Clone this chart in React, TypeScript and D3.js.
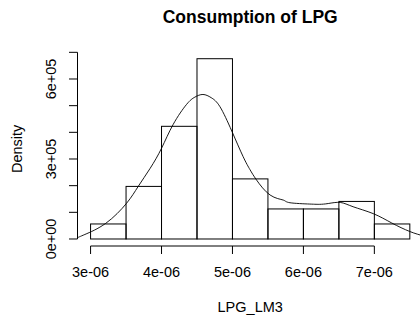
import React from "react";
import * as d3 from "d3";

// Histogram of LPG_LM3 (breaks every 5e-7 from 3e-6 to 7.5e-6)
const breaks = [3.0e-6, 3.5e-6, 4.0e-6, 4.5e-6, 5.0e-6, 5.5e-6, 6.0e-6, 6.5e-6, 7.0e-6, 7.5e-6];
const counts = [2, 7, 15, 24, 8, 4, 4, 5, 2];

// Kernel density estimate
const densityX = [2.80e-6, 2.92e-6, 3.215e-6, 3.507e-6, 3.671e-6, 3.84e-6, 4.00e-6, 4.165e-6, 4.354e-6, 4.47e-6, 4.584e-6, 4.70e-6, 4.824e-6, 4.99e-6, 5.15e-6, 5.247e-6, 5.34e-6, 5.53e-6, 5.716e-6, 5.81e-6, 6.09e-6, 6.23e-6, 6.35e-6, 6.52e-6, 6.70e-6, 6.985e-6, 7.245e-6, 7.50e-6, 7.70e-6];
const densityY = [0.03e5, 0.17e5, 0.589e5, 1.339e5, 1.97e5, 2.65e5, 3.40e5, 4.30e5, 5.05e5, 5.32e5, 5.42e5, 5.30e5, 4.96e5, 4.05e5, 3.09e5, 2.60e5, 2.21e5, 1.65e5, 1.46e5, 1.36e5, 1.31e5, 1.30e5, 1.33e5, 1.37e5, 1.21e5, 0.95e5, 0.60e5, 0.28e5, 0.11e5];

const xTicks = [3e-6, 4e-6, 5e-6, 6e-6, 7e-6];
const xTickLabels = ["3e-06", "4e-06", "5e-06", "6e-06", "7e-06"];
const yTicks = [0, 1e5, 2e5, 3e5, 4e5, 5e5, 6e5, 7e5];
const yLabelTicks = [0, 3e5, 6e5];
const yTickLabels = ["0e+00", "3e+05", "6e+05"];

const title = "Consumption of LPG";
const xTitle = "LPG_LM3";
const yTitle = "Density";

const W = 420;
const H = 322;
const FONT = "'Liberation Sans', Arial, Helvetica, sans-serif";

export default function App() {
  const n = d3.sum(counts);
  const binW = breaks[1] - breaks[0];
  const dens = counts.map((c) => c / (n * binW));
  const ymax = d3.max(dens) as number;

  const xlo = breaks[0], xhi = breaks[breaks.length - 1];
  const xpad = (xhi - xlo) * 0.04;
  const x = d3.scaleLinear().domain([xlo - xpad, xhi + xpad]).range([77.8, 422.6]);
  const ypad = ymax * 0.04;
  const y = d3.scaleLinear().domain([-ypad, ymax + ypad]).range([246.2, 51.5]);

  const [px0, px1] = x.range();
  const [py0, py1] = y.range();

  const line = d3
    .line<number>()
    .x((_, i) => x(densityX[i]))
    .y((d) => y(d))
    .curve(d3.curveNatural);

  const axisY = Math.round(py0); // bottom axis line
  const axisX = Math.round(px0) - 0.5; // left axis line

  return (
    <svg
      width={W}
      height={H}
      style={{ position: "fixed", left: 0, top: 0, background: "#fff" }}
      fontFamily={FONT}
    >
      <rect x={0} y={0} width={W} height={H} fill="#fff" />
      <defs>
        <clipPath id="plot">
          <rect x={px0} y={py1} width={px1 - px0} height={py0 - py1} />
        </clipPath>
      </defs>

      {/* bars */}
      <g fill="none" stroke="#000" strokeWidth={1}>
        {dens.map((d, i) => (
          <rect
            key={i}
            x={x(breaks[i])}
            y={y(d)}
            width={x(breaks[i + 1]) - x(breaks[i])}
            height={y(0) - y(d)}
          />
        ))}
      </g>

      {/* density curve */}
      <path
        d={line(densityY) || ""}
        fill="none"
        stroke="#000"
        strokeWidth={0.9}
        clipPath="url(#plot)"
      />

      {/* x axis */}
      <g stroke="#000" strokeWidth={1}>
        <line x1={x(xTicks[0])} x2={x(xTicks[xTicks.length - 1])} y1={axisY} y2={axisY} />
        {xTicks.map((t) => (
          <line key={t} x1={x(t)} x2={x(t)} y1={axisY} y2={axisY + 8} />
        ))}
      </g>
      <g fontSize={14.5} textAnchor="middle" fill="#000">
        {xTicks.map((t, i) => (
          <text key={t} x={x(t)} y={277}>
            {xTickLabels[i]}
          </text>
        ))}
      </g>

      {/* y axis */}
      <g stroke="#000" strokeWidth={1}>
        <line x1={axisX} x2={axisX} y1={y(yTicks[0])} y2={y(yTicks[yTicks.length - 1])} />
        {yTicks.map((t) => (
          <line key={t} x1={axisX - 8.5} x2={axisX} y1={y(t)} y2={y(t)} />
        ))}
      </g>
      <g fontSize={14.5} textAnchor="middle" fill="#000">
        {yLabelTicks.map((t, i) => (
          <text key={t} transform={`translate(56,${y(t)}) rotate(-90)`}>
            {yTickLabels[i]}
          </text>
        ))}
      </g>

      {/* titles */}
      <text x={(px0 + px1) / 2} y={22.5} textAnchor="middle" fontSize={17.5} fontWeight="bold">
        {title}
      </text>
      <text x={(px0 + px1) / 2} y={312} textAnchor="middle" fontSize={14.5}>
        {xTitle}
      </text>
      <text
        transform={`translate(22,${(py0 + py1) / 2}) rotate(-90)`}
        textAnchor="middle"
        fontSize={14.5}
      >
        {yTitle}
      </text>
    </svg>
  );
}
